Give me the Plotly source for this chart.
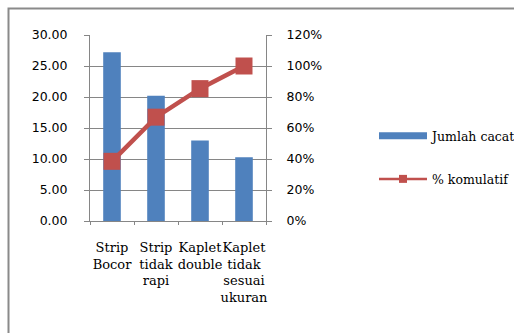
import plotly.graph_objects as go

# Pareto data: defect counts and cumulative share
categories = ["Strip<br>Bocor", "Strip<br>tidak<br>rapi", "Kaplet<br>double", "Kaplet<br>tidak<br>sesuai<br>ukuran"]
jumlah_cacat = [27.2, 20.2, 13.0, 10.3]
persen_kumulatif = [0.385, 0.670, 0.854, 1.000]
left_ticks = [0, 5, 10, 15, 20, 25, 30]
right_ticks = [0, 0.2, 0.4, 0.6, 0.8, 1.0, 1.2]

W, H = 514, 333
ML, MR, MT, MB = 90, 248, 35, 112
BLUE = "#4F81BD"
RED = "#C0504D"
GRID = "#868686"
SANS = "DejaVu Sans"
SERIF = "DejaVu Serif"

fig = go.Figure()

fig.add_trace(go.Bar(
    x=categories, y=jumlah_cacat, name="Jumlah cacat",
    marker=dict(color=BLUE, line=dict(width=0)), width=0.4,
    showlegend=False,
))
fig.add_trace(go.Scatter(
    x=categories, y=persen_kumulatif, name="% komulatif", yaxis="y2",
    mode="lines+markers",
    line=dict(color=RED, width=4.5),
    marker=dict(symbol="square", size=17, color=RED),
    showlegend=False,
))

# legend entries
fig.add_trace(go.Scatter(
    x=[None], y=[None], name="Jumlah cacat", mode="lines",
    line=dict(color=BLUE, width=7), legendgroup="a",
))
fig.add_trace(go.Scatter(
    x=[None], y=[None], name="% komulatif", mode="lines+markers",
    line=dict(color=RED, width=2.5), marker=dict(symbol="square", size=8, color=RED),
    legendgroup="b",
))

pw = W - ML - MR
ph = H - MT - MB


def px_x(p):
    return (p - ML) / pw


def px_y(p):
    return (H - MB - p) / ph


# outer chart border
fig.add_shape(type="rect", xref="paper", yref="paper",
              x0=px_x(8.5), x1=px_x(W + 20), y0=px_y(H + 20), y1=px_y(8.5),
              line=dict(color="#8A8A8A", width=2), fillcolor="rgba(0,0,0,0)", layer="below")

fig.update_layout(
    template="none",
    width=W, height=H,
    margin=dict(l=ML, r=MR, t=MT, b=MB, pad=0, autoexpand=False),
    paper_bgcolor="white", plot_bgcolor="white",
    bargap=0.6,
    xaxis=dict(
        type="category", range=[-0.5, 3.5], automargin=False,
        showline=True, linecolor=GRID, linewidth=1,
        ticks="outside", tickson="boundaries", ticklen=3, tickcolor=GRID,
        tickangle=0,
        tickfont=dict(family=SERIF, size=13, color="black"),
        ticklabelstandoff=14,
        showgrid=False, zeroline=False,
    ),
    yaxis=dict(
        range=[0, 30], tickvals=left_ticks, tickformat=".2f", automargin=False,
        showline=True, linecolor=GRID, linewidth=1,
        ticks="outside", ticklen=5, tickcolor=GRID,
        showgrid=True, gridcolor=GRID, gridwidth=1, zeroline=False,
        tickfont=dict(family=SANS, size=12.5, color="black"),
        ticklabelstandoff=14,
    ),
    yaxis2=dict(
        range=[0, 1.2], tickvals=right_ticks, tickformat=".0%", automargin=False,
        overlaying="y", side="right",
        showline=True, linecolor=GRID, linewidth=1,
        ticks="outside", ticklen=5, tickcolor=GRID,
        showgrid=False, zeroline=False,
        tickfont=dict(family=SANS, size=12.5, color="black"),
        ticklabelstandoff=12,
    ),
    legend=dict(
        x=px_x(374), y=px_y(121), xanchor="left", yanchor="top",
        xref="paper", yref="paper",
        font=dict(family=SERIF, size=12.5, color="black"),
        traceorder="grouped", tracegroupgap=24, itemwidth=48,
        bgcolor="rgba(0,0,0,0)", borderwidth=0,
    ),
)

fig.write_html("out.html")
